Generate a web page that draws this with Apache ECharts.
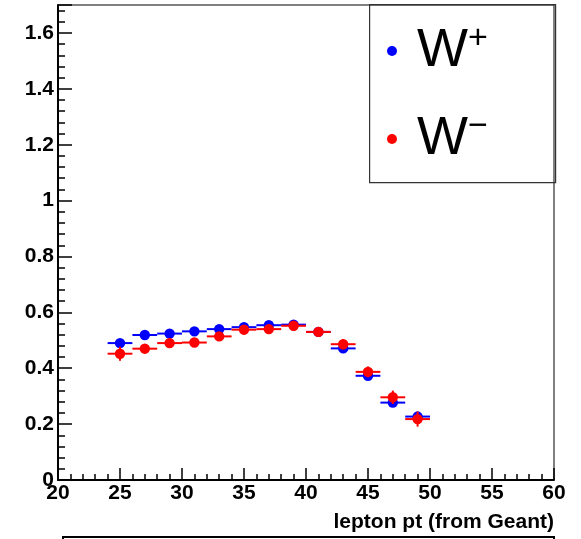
<!DOCTYPE html>
<html>
<head>
<meta charset="utf-8">
<script src="https://cdn.jsdelivr.net/npm/echarts@6/dist/echarts.min.js"></script>
<style>
  html, body { margin: 0; padding: 0; background: #ffffff; }
  #chart { width: 581px; height: 539px; }
</style>
</head>
<body>
<div id="chart"></div>
<script>
// ---- data ----
const binCenters = [25, 27, 29, 31, 33, 35, 37, 39, 41, 43, 45, 47, 49];
const binHalfWidth = 1;
const wPlusValues  = [0.490, 0.519, 0.524, 0.532, 0.540, 0.547, 0.554, 0.556, 0.530, 0.471, 0.373, 0.277, 0.227];
const wPlusErrors  = [0.012, 0.012, 0.012, 0.012, 0.012, 0.012, 0.012, 0.013, 0.013, 0.014, 0.014, 0.015, 0.016];
const wMinusValues = [0.452, 0.470, 0.490, 0.492, 0.514, 0.538, 0.540, 0.552, 0.530, 0.486, 0.387, 0.296, 0.218];
const wMinusErrors = [0.025, 0.016, 0.016, 0.016, 0.016, 0.016, 0.016, 0.017, 0.017, 0.018, 0.019, 0.024, 0.027];
const xTickValues = [20, 25, 30, 35, 40, 45, 50, 55, 60];
const yTickValues = [0, 0.2, 0.4, 0.6, 0.8, 1, 1.2, 1.4, 1.6];
const seriesNames = ['W+', 'W\u2212'];

function toRows(vals, errs) {
  return binCenters.map((x, i) => [x, vals[i], errs[i]]);
}

function makeRender(color) {
  return function (params, api) {
    const x = api.value(0), y = api.value(1), ey = api.value(2);
    const pL = api.coord([x - binHalfWidth, y]);
    const pR = api.coord([x + binHalfWidth, y]);
    const pT = api.coord([x, y + ey]);
    const pB = api.coord([x, y - ey]);
    const c = api.coord([x, y]);
    return {
      type: 'group',
      children: [
        { type: 'line', shape: { x1: pL[0], y1: pL[1], x2: pR[0], y2: pR[1] },
          style: { stroke: color, lineWidth: 2 } },
        { type: 'line', shape: { x1: pT[0], y1: pT[1], x2: pB[0], y2: pB[1] },
          style: { stroke: color, lineWidth: 2 } },
        { type: 'circle', shape: { cx: c[0], cy: c[1], r: 5.2 },
          style: { fill: color } }
      ]
    };
  };
}

const chart = echarts.init(document.getElementById('chart'), null, { renderer: 'canvas' });
const labelFont = { fontFamily: 'Liberation Sans', fontWeight: 'bold', fontSize: 21, color: '#000' };

chart.setOption({
  animation: false,
  backgroundColor: '#ffffff',
  grid: {
    left: 58, right: 27, top: 5, bottom: 59,
    show: true, borderColor: '#000', borderWidth: 1, backgroundColor: 'transparent'
  },
  xAxis: {
    type: 'value', min: 20, max: 60, interval: 5,
    axisLine: { show: true, onZero: false, lineStyle: { color: '#000', width: 2 } },
    axisTick: { show: true, inside: true, length: 12, lineStyle: { color: '#000', width: 1.5 } },
    minorTick: { show: true, splitNumber: 5, length: 6, lineStyle: { color: '#000', width: 1.5 } },
    splitLine: { show: false },
    axisLabel: Object.assign({ margin: 3,
      formatter: v => (xTickValues.indexOf(v) >= 0 ? String(v) : '') }, labelFont),
    name: 'lepton pt (from Geant)',
    nameLocation: 'end',
    nameGap: 0,
    nameTextStyle: Object.assign({ align: 'right', verticalAlign: 'top', padding: [32, 0, 0, 0] }, labelFont)
  },
  yAxis: {
    type: 'value', min: 0, max: 1.7, interval: 0.2,
    axisLine: { show: true, lineStyle: { color: '#000', width: 2 } },
    axisTick: { show: true, inside: true, length: 14, lineStyle: { color: '#000', width: 1.5 } },
    minorTick: { show: true, splitNumber: 5, length: 7, lineStyle: { color: '#000', width: 1.5 } },
    splitLine: { show: false },
    axisLabel: Object.assign({ margin: 4, showMaxLabel: false,
      formatter: v => (yTickValues.some(t => Math.abs(t - v) < 1e-9) ? String(+v.toFixed(1)) : '') }, labelFont)
  },
  legend: {
    show: true,
    orient: 'vertical',
    left: 382, top: 17,
    itemWidth: 10, itemHeight: 10, itemGap: 32,
    icon: 'circle',
    data: seriesNames,
    formatter: function (name) {
      const sup = name.slice(1);
      return '{sp|}{w|W}{s|' + sup + '}';
    },
    textStyle: {
      color: '#000',
      rich: {
        sp: { width: 15 },
        w: { fontFamily: 'Liberation Sans', fontSize: 54, lineHeight: 58, color: '#000' },
        s: { fontFamily: 'Liberation Sans', fontSize: 34, lineHeight: 34, color: '#000', verticalAlign: 'top' }
      }
    }
  },
  graphic: [
    { type: 'rect', left: 369, top: 4, shape: { width: 186, height: 178 },
      style: { fill: 'transparent', stroke: '#333', lineWidth: 1.2 }, z: 0 },
    { type: 'rect', left: 62, top: 536, shape: { width: 491, height: 20 },
      style: { fill: 'transparent', stroke: '#000', lineWidth: 2 }, z: 0 }
  ],
  series: [
    { name: seriesNames[0], type: 'custom', itemStyle: { color: '#0000ff' },
      renderItem: makeRender('#0000ff'), data: toRows(wPlusValues, wPlusErrors), z: 3 },
    { name: seriesNames[1], type: 'custom', itemStyle: { color: '#ff0000' },
      renderItem: makeRender('#ff0000'), data: toRows(wMinusValues, wMinusErrors), z: 4 }
  ]
});
</script>
</body>
</html>
